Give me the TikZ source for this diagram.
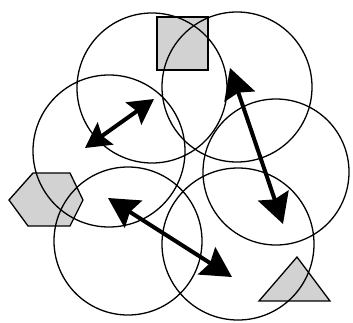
\documentclass[tikz,border=0pt]{standalone}
\usetikzlibrary{arrows.meta}
\begin{document}
\begin{tikzpicture}[
  x=1pt, y=-1pt,
  zone/.style={draw, line width=1.3pt},
  site/.style={draw, line width=1.3pt, fill=gray!35},
  link/.style={{Stealth[length=30pt,width=32pt,inset=4pt]}-{Stealth[length=30pt,width=32pt,inset=4pt]}, line width=4pt},
  shortlink/.style={{Stealth[length=25pt,width=27pt,inset=4pt]}-{Stealth[length=25pt,width=27pt,inset=4pt]}, line width=4pt}
]
\useasboundingbox (0,0) rectangle (353,322);
% stations
\draw[site] (157,17) rectangle (208,70);
\draw[site] (9,200) -- (33,173) -- (70,173) -- (83,200) -- (70,226) -- (28,226) -- cycle;
\draw[site] (297,257) -- (330,301) -- (259,301) -- cycle;
% coverage circles
\draw[zone] (152,88) circle (75);
\draw[zone] (237,87) circle (75);
\draw[zone] (109,151) circle (76);
\draw[zone] (276,172) circle (73);
\draw[zone] (128,241) circle (74);
\draw[zone] (238,244) circle (76);
% links
\coordinate (a1) at (85,148);
\coordinate (a2) at (154,99);
\coordinate (b1) at (230,68);
\coordinate (b2) at (283,224);
\coordinate (c1) at (108,198);
\coordinate (c2) at (232,277);
\draw[shortlink] (a1) -- (a2);
\draw[link] (b1) -- (b2);
\draw[link] (c1) -- (c2);
\end{tikzpicture}
\end{document}
